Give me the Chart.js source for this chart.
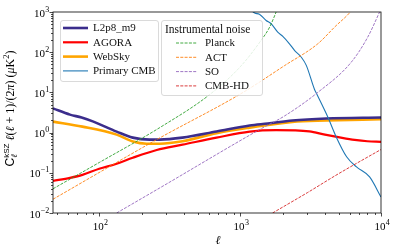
<!DOCTYPE html>
<html>
<head>
<meta charset="utf-8">
<script src="https://cdn.jsdelivr.net/npm/chart.js@4.4.1/dist/chart.umd.min.js"></script>
<style>
  html, body { margin: 0; padding: 0; background: #fff; }
  #wrap { width: 396px; height: 252px; }
</style>
</head>
<body>
<div id="wrap"><canvas id="chart" width="396" height="252"></canvas></div>
<script>
// multipoles and D_l values
const ellL2p8 = [47, 62, 75, 90, 133, 173, 228, 269, 390, 680, 1170, 1570, 2350, 4100, 10000];
const valL2p8 = [4.0, 2.8, 2.37, 1.9, 1.06, 0.75, 0.67, 0.67, 0.75, 1.06, 1.5, 1.68, 2.0, 2.24, 2.37];

const ellAgora = [47, 62, 76, 100, 133, 173, 256, 390, 680, 1170, 1800, 3100, 4000, 5300, 6500, 8000, 10000];
const valAgora = [0.063, 0.075, 0.089, 0.126, 0.168, 0.237, 0.37, 0.5, 0.75, 1.06, 1.15, 1.07, 0.89, 0.74, 0.66, 0.61, 0.59];

const ellWebsky = [47, 76, 133, 173, 217, 269, 390, 680, 1170, 2350, 4100, 10000];
const valWebsky = [1.88, 1.41, 0.89, 0.6, 0.53, 0.53, 0.61, 0.97, 1.33, 1.85, 2.0, 2.15];

const ellCmb = [1100, 1170, 1270, 1370, 1530, 1660, 1850, 2010, 2240, 2440, 2720, 2950, 3370, 3480, 4200, 4800, 5700, 6700, 8300, 10000];
const valCmb = [1500, 1200, 944, 880, 616, 510, 316, 247, 162, 110, 75, 47, 12, 9.5, 2.4, 0.79, 0.25, 0.14, 0.079, 0.025];

// noise curves
const ellPlanck = [47, 100, 269, 610, 1000, 1380, 1620, 1840, 2000];
const valPlanck = [0.04, 0.18, 1.33, 8.9, 43, 178, 420, 1200, 2500];

const ellAct = [47, 256, 1050, 2070, 3560, 4680, 6310, 7000];
const valAct = [0.022, 0.67, 10, 46.5, 162, 420, 1200, 2200];

const ellSo = [133, 269, 1380, 2070, 3560, 6140, 8050, 9770, 10000];
const valSo = [0.01, 0.042, 1.2, 2.6, 10, 56, 237, 1000, 1200];

const ellHd = [1700, 3000, 5000, 10000];
const valHd = [0.01, 0.032, 0.095, 0.38];

const xMin = 47, xMax = 10000;
const yMin = 0.01, yMax = 1000;
const xMajor = [100, 1000, 10000];
const yMajor = [0.01, 0.1, 1, 10, 100, 1000];

const serif = '"Liberation Serif", "DejaVu Serif", serif';

function pts(xs, ys) {
  return xs.map((x, i) => ({ x: x, y: ys[i] }));
}

function mkSet(label, xs, ys, color, width, dash) {
  return {
    label: label,
    data: pts(xs, ys),
    borderColor: color,
    borderWidth: width,
    borderDash: dash || [],
    pointRadius: 0,
    fill: false,
    cubicInterpolationMode: 'monotone'
  };
}

const dashN = [3, 1.3];
const datasets = [
  mkSet('Planck', ellPlanck, valPlanck, '#2ca02c', 0.9, dashN),
  mkSet('ACT', ellAct, valAct, '#ff7f0e', 0.9, dashN),
  mkSet('SO', ellSo, valSo, '#9467bd', 0.9, dashN),
  mkSet('CMB-HD', ellHd, valHd, '#d62728', 0.9, dashN),
  mkSet('Primary CMB', ellCmb, valCmb, '#1f77b4', 1.1),
  mkSet('L2p8_m9', ellL2p8, valL2p8, '#3b2d8c', 2.6),
  mkSet('WebSky', ellWebsky, valWebsky, '#ffa500', 2.6),
  mkSet('AGORA', ellAgora, valAgora, '#ff0000', 2.2)
];

// log ticks 1..9 x 10^n inside the range
function logTicks(min, max) {
  const out = [];
  for (let p = Math.floor(Math.log10(min)); p <= Math.ceil(Math.log10(max)); p++) {
    for (let m = 1; m <= 9; m++) {
      const v = m * Math.pow(10, p);
      if (v >= min * 0.999 && v <= max * 1.001) out.push({ value: v, major: m === 1 });
    }
  }
  return out;
}

// 10^n label with raised exponent
function drawPow(ctx, x, y, exp, align) {
  const e = exp < 0 ? '\u2212' + (-exp) : String(exp);
  ctx.font = '11px ' + serif;
  const w1 = ctx.measureText('10').width;
  ctx.font = '8px ' + serif;
  const w2 = ctx.measureText(e).width;
  let x0 = align === 'right' ? x - w1 - w2 : x - (w1 + w2) / 2;
  ctx.fillStyle = '#000';
  ctx.textAlign = 'left';
  ctx.textBaseline = 'alphabetic';
  ctx.font = '11px ' + serif;
  ctx.fillText('10', x0, y);
  ctx.font = '8px ' + serif;
  ctx.fillText(e, x0 + w1 + 0.3, y - 5);
}

// draws runs of text with their own fonts and offsets, centred on (0,0)
function drawRuns(ctx, runs) {
  let total = 0;
  runs.forEach(r => {
    ctx.font = r.font;
    r.w = ctx.measureText(r.text).width;
    if (r.under) {
      ctx.font = r.under.font;
      r.w = Math.max(r.w, ctx.measureText(r.under.text).width);
    }
    total += r.w;
  });
  let x = -total / 2;
  ctx.textAlign = 'left';
  ctx.textBaseline = 'alphabetic';
  runs.forEach(r => {
    ctx.font = r.font;
    ctx.fillText(r.text, x, r.dy || 0);
    if (r.under) {
      ctx.font = r.under.font;
      ctx.fillText(r.under.text, x, r.under.dy);
    }
    x += r.w;
  });
}

const axesPlugin = {
  id: 'axesPlugin',
  afterDraw(chart) {
    const ctx = chart.ctx;
    const a = chart.chartArea;
    const xs = chart.scales.x, ys = chart.scales.y;
    ctx.save();
    // frame
    ctx.strokeStyle = '#000';
    ctx.lineWidth = 0.8;
    ctx.strokeRect(a.left, a.top, a.right - a.left, a.bottom - a.top);
    // ticks
    ctx.lineWidth = 0.7;
    logTicks(xMin, xMax).forEach(t => {
      const px = Math.round(xs.getPixelForValue(t.value)) + 0.5;
      const len = t.major ? 3.5 : 2;
      ctx.beginPath();
      ctx.moveTo(px, a.bottom);
      ctx.lineTo(px, a.bottom + len);
      ctx.stroke();
    });
    logTicks(yMin, yMax).forEach(t => {
      const py = Math.round(ys.getPixelForValue(t.value)) + 0.5;
      const len = t.major ? 3.5 : 2;
      ctx.beginPath();
      ctx.moveTo(a.left, py);
      ctx.lineTo(a.left - len, py);
      ctx.stroke();
    });
    // tick labels
    xMajor.forEach(v => {
      drawPow(ctx, xs.getPixelForValue(v) + 1, a.bottom + 17, Math.round(Math.log10(v)), 'center');
    });
    yMajor.forEach(v => {
      drawPow(ctx, a.left - 4, ys.getPixelForValue(v) + 4.5, Math.round(Math.log10(v)), 'right');
    });
    // x title
    ctx.fillStyle = '#000';
    ctx.font = 'italic 12px ' + serif;
    ctx.textAlign = 'center';
    ctx.fillText('\u2113', (a.left + a.right) / 2 + 1, a.bottom + 31);
    // y title
    ctx.translate(14, (a.top + a.bottom) / 2 - 4);
    ctx.rotate(-Math.PI / 2);
    const it = 'italic 12px ' + serif, rm = '12px ' + serif;
    drawRuns(ctx, [
      { text: 'C', font: '12px "Liberation Sans", sans-serif' },
      { text: 'kSZ', font: '8px "Liberation Sans", sans-serif', dy: -5.5,
        under: { text: '\u2113', font: 'italic 8.5px ' + serif, dy: 3 } },
      { text: ' \u2113', font: it },
      { text: '(', font: rm },
      { text: '\u2113', font: it },
      { text: ' + 1)/(2', font: rm },
      { text: '\u03c0', font: it },
      { text: ') (', font: rm },
      { text: '\u03bc', font: it },
      { text: 'K', font: rm },
      { text: '2', font: '8.5px ' + serif, dy: -5.5 },
      { text: ')', font: rm }
    ]);
    ctx.restore();
  }
};

function legendBox(ctx, x, y, w, h) {
  const r = 2.5;
  ctx.beginPath();
  ctx.moveTo(x + r, y);
  ctx.arcTo(x + w, y, x + w, y + h, r);
  ctx.arcTo(x + w, y + h, x, y + h, r);
  ctx.arcTo(x, y + h, x, y, r);
  ctx.arcTo(x, y, x + w, y, r);
  ctx.closePath();
  ctx.fillStyle = 'rgba(255,255,255,0.85)';
  ctx.fill();
  ctx.strokeStyle = '#d0d0d0';
  ctx.lineWidth = 0.8;
  ctx.stroke();
}

function legendEntry(ctx, ds, x1, x2, tx, y) {
  ctx.save();
  ctx.strokeStyle = ds.borderColor;
  ctx.lineWidth = ds.borderWidth;
  ctx.setLineDash(ds.borderDash);
  ctx.beginPath();
  ctx.moveTo(x1, y);
  ctx.lineTo(x2, y);
  ctx.stroke();
  ctx.restore();
  ctx.fillStyle = '#111';
  ctx.font = '11px ' + serif;
  ctx.textAlign = 'left';
  ctx.textBaseline = 'middle';
  ctx.fillText(ds.label, tx, y + 0.5);
}

const legendPlugin = {
  id: 'legendPlugin',
  afterDraw(chart) {
    const ctx = chart.ctx;
    const byLabel = {};
    chart.data.datasets.forEach(d => { byLabel[d.label] = d; });
    ctx.save();
    legendBox(ctx, 60.5, 20.5, 98, 61);
    ['L2p8_m9', 'AGORA', 'WebSky', 'Primary CMB'].forEach((lab, i) => {
      legendEntry(ctx, byLabel[lab], 63, 88, 93, 28 + i * 14.3);
    });
    legendBox(ctx, 161.5, 20.5, 101, 75);
    ctx.fillStyle = '#111';
    ctx.font = '11.5px ' + serif;
    ctx.textAlign = 'left';
    ctx.textBaseline = 'middle';
    ctx.fillText('Instrumental noise', 165, 29.5);
    ['Planck', 'ACT', 'SO', 'CMB-HD'].forEach((lab, i) => {
      legendEntry(ctx, byLabel[lab], 176, 197, 205, 43 + i * 14.3);
    });
    ctx.restore();
  }
};

new Chart(document.getElementById('chart').getContext('2d'), {
  type: 'line',
  data: { datasets: datasets },
  options: {
    responsive: false,
    animation: false,
    devicePixelRatio: 1,
    layout: { padding: { left: 0, top: 12, right: 15, bottom: 0 } },
    plugins: {
      legend: { display: false },
      tooltip: { enabled: false }
    },
    scales: {
      x: {
        type: 'logarithmic',
        min: xMin,
        max: xMax,
        grid: { display: false },
        border: { display: false },
        ticks: { display: false },
        afterFit: s => { s.height = 39; }
      },
      y: {
        type: 'logarithmic',
        min: yMin,
        max: yMax,
        grid: { display: false },
        border: { display: false },
        ticks: { display: false },
        afterFit: s => { s.width = 53; }
      }
    }
  },
  plugins: [axesPlugin, legendPlugin]
});
</script>
</body>
</html>
